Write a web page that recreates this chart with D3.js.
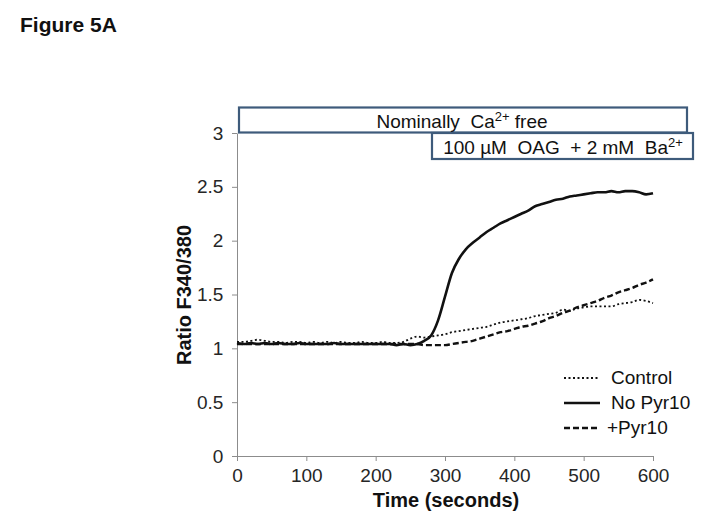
<!DOCTYPE html>
<html><head><meta charset="utf-8">
<script src="https://cdn.jsdelivr.net/npm/d3@7"></script>
<style>body{margin:0;background:#fff}svg{display:block}text{font-family:"Liberation Sans",Arial,sans-serif}</style>
</head><body><div id="chart"></div>
<script>
const time = [0,10,20,30,40,50,60,70,80,90,100,110,120,130,140,150,160,170,180,190,200,210,220,230,240,250,260,270,280,290,300,310,320,330,340,350,360,370,380,390,400,410,420,430,440,450,460,470,480,490,500,510,520,530,540,550,560,570,580,590,600];
const noPyr10 = [1.05,1.04,1.05,1.04,1.05,1.04,1.05,1.04,1.04,1.05,1.04,1.04,1.04,1.04,1.05,1.04,1.04,1.04,1.04,1.04,1.04,1.04,1.04,1.03,1.04,1.03,1.04,1.07,1.12,1.26,1.48,1.70,1.83,1.92,1.98,2.03,2.08,2.12,2.16,2.19,2.22,2.25,2.28,2.32,2.34,2.36,2.38,2.39,2.41,2.42,2.43,2.44,2.45,2.45,2.46,2.45,2.46,2.46,2.45,2.43,2.44];
const control = [1.06,1.06,1.07,1.08,1.07,1.06,1.06,1.05,1.06,1.06,1.05,1.06,1.05,1.06,1.05,1.06,1.05,1.05,1.06,1.05,1.05,1.06,1.05,1.05,1.06,1.09,1.11,1.10,1.11,1.12,1.13,1.15,1.16,1.17,1.18,1.19,1.20,1.22,1.24,1.25,1.26,1.27,1.28,1.30,1.31,1.32,1.33,1.36,1.35,1.37,1.38,1.39,1.39,1.39,1.39,1.41,1.42,1.43,1.45,1.44,1.42];
const withPyr10 = [1.04,1.04,1.04,1.04,1.04,1.04,1.04,1.04,1.04,1.04,1.04,1.04,1.04,1.04,1.04,1.04,1.04,1.04,1.04,1.04,1.04,1.04,1.04,1.04,1.04,1.04,1.04,1.03,1.03,1.03,1.03,1.04,1.05,1.06,1.07,1.09,1.11,1.13,1.15,1.16,1.18,1.20,1.21,1.23,1.25,1.28,1.30,1.33,1.35,1.38,1.40,1.42,1.44,1.47,1.49,1.52,1.54,1.56,1.59,1.61,1.64];
const xTicks = [0,100,200,300,400,500,600];
const yTicks = [0,0.5,1,1.5,2,2.5,3];
const seriesNames = ["Control","No Pyr10","+Pyr10"];

const W=701,H=521;
const svg=d3.select("#chart").append("svg").attr("width",W).attr("height",H);
const x=d3.scaleLinear().domain([0,600]).range([237,653]);
const y=d3.scaleLinear().domain([0,3]).range([456,133]);
const axisCol="#8c8c8c";

svg.append("text").attr("x",20).attr("y",32).attr("font-size",21).attr("font-weight","bold").attr("fill","#111").text("Figure 5A");

const xa=svg.append("g").attr("transform","translate(0,456)").call(d3.axisBottom(x).tickValues(xTicks).tickSize(5).tickSizeOuter(0).tickFormat(d3.format("d")));
const ya=svg.append("g").attr("transform","translate(237,0)").call(d3.axisLeft(y).tickValues(yTicks).tickSize(5).tickSizeOuter(0).tickFormat(d=>String(d)));
[xa,ya].forEach(a=>{a.select(".domain").attr("stroke",axisCol);a.selectAll(".tick line").attr("stroke",axisCol);a.selectAll(".tick text").attr("font-size",19).attr("fill","#262626").attr("font-family","Liberation Sans, Arial, sans-serif");});
xa.selectAll(".tick text").attr("dy","0.95em");
ya.selectAll(".tick text").attr("dx","-0.3em");

svg.append("text").attr("x",446).attr("y",507).attr("text-anchor","middle").attr("font-size",20).attr("font-weight","bold").attr("fill","#111").text("Time (seconds)");
svg.append("text").attr("transform","translate(191,295) rotate(-90)").attr("text-anchor","middle").attr("font-size",20).attr("font-weight","bold").attr("fill","#111").text("Ratio  F340/380");

const line=d3.line().x((d,i)=>x(time[i])).y(d=>y(d)).curve(d3.curveMonotoneX);
const styles=[{data:control,w:1.8,dash:"2,2.5"},{data:noPyr10,w:2.6,dash:null},{data:withPyr10,w:2.4,dash:"6,3"}];
styles.forEach(s=>{svg.append("path").datum(s.data).attr("d",line).attr("fill","none").attr("stroke","#111").attr("stroke-width",s.w).attr("stroke-dasharray",s.dash);});

// boxes
const boxCol="#3e5b7b";
svg.append("rect").attr("x",239).attr("y",107.5).attr("width",448).attr("height",25).attr("fill","#fff").attr("stroke",boxCol).attr("stroke-width",2.2);
svg.append("rect").attr("x",432).attr("y",133).attr("width",261).attr("height",26).attr("fill","#fff").attr("stroke",boxCol).attr("stroke-width",2.2);
const t1=svg.append("text").attr("x",462).attr("y",128).attr("text-anchor","middle").attr("font-size",19).attr("fill","#111");
t1.append("tspan").text("Nominally\u00a0 Ca");
t1.append("tspan").attr("font-size",13).attr("dy",-7).text("2+");
t1.append("tspan").attr("dy",7).text(" free");
const t2=svg.append("text").attr("x",563).attr("y",154).attr("text-anchor","middle").attr("font-size",19).attr("fill","#111");
t2.append("tspan").text("100 \u00b5M\u00a0 OAG\u00a0 +\u00a02\u00a0mM\u00a0 Ba");
t2.append("tspan").attr("font-size",13).attr("dy",-7).text("2+");

// legend
const ly=[378,403,428];
styles.forEach((s,i)=>{
  svg.append("line").attr("x1",564).attr("x2",600).attr("y1",ly[i]).attr("y2",ly[i]).attr("stroke","#111").attr("stroke-width",s.w).attr("stroke-dasharray",s.dash);
  svg.append("text").attr("x",i===2?607:611).attr("y",ly[i]+6).attr("font-size",19).attr("fill","#111").text(seriesNames[i]);
});
</script></body></html>
